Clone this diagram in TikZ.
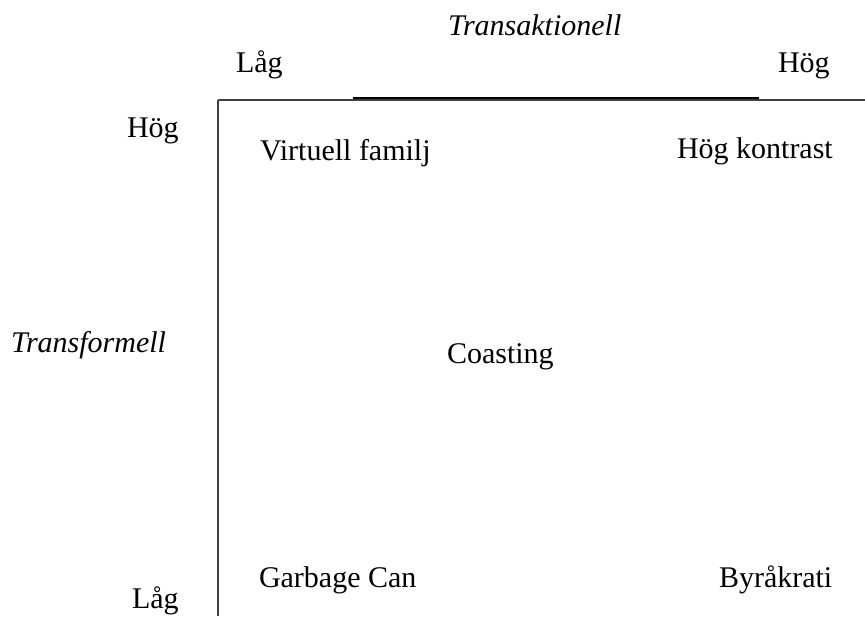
\documentclass[tikz,border=0pt]{standalone}
\usepackage{fontspec}
\setmainfont{Liberation Serif}
\begin{document}
\begin{tikzpicture}[x=1pt,y=-1pt,
  lbl/.style={anchor=base west,inner sep=0pt,outer sep=0pt,font=\fontsize{30}{36}\selectfont},
  axlbl/.style={lbl,font=\fontsize{30}{36}\selectfont\itshape},
  thinline/.style={draw=black!75,line width=1.2pt},
  thickline/.style={draw=black,line width=2.2pt}]
\useasboundingbox (0,0) rectangle (865,616);
% axes
\coordinate (o) at (217.5,100);
\coordinate (r) at (865,100);
\coordinate (b) at (217.5,616);
\coordinate (t1) at (353,98);
\coordinate (t2) at (759,98);
\draw[thinline] (r) -- (o);
\draw[thinline,line width=2pt] (o) -- (b);
\draw[thickline] (t1) -- (t2);
% axis labels
\node[axlbl] (tra) at (448,35) {Transaktionell};
\node[lbl] (xlow) at (236,72) {Låg};
\node[lbl] (xhigh) at (778,72) {Hög};
\node[axlbl] (tfm) at (11,352) {Transformell};
\node[lbl] (yhigh) at (127,137) {Hög};
\node[lbl] (ylow) at (132,608) {Låg};
% quadrants
\node[lbl] (vf) at (260,160) {Virtuell familj};
\node[lbl] (hk) at (677,158) {Hög kontrast};
\node[lbl] (co) at (447,363) {Coasting};
\node[lbl] (gc) at (259,587) {Garbage Can};
\node[lbl] (by) at (719,587) {Byråkrati};
\end{tikzpicture}
\end{document}
